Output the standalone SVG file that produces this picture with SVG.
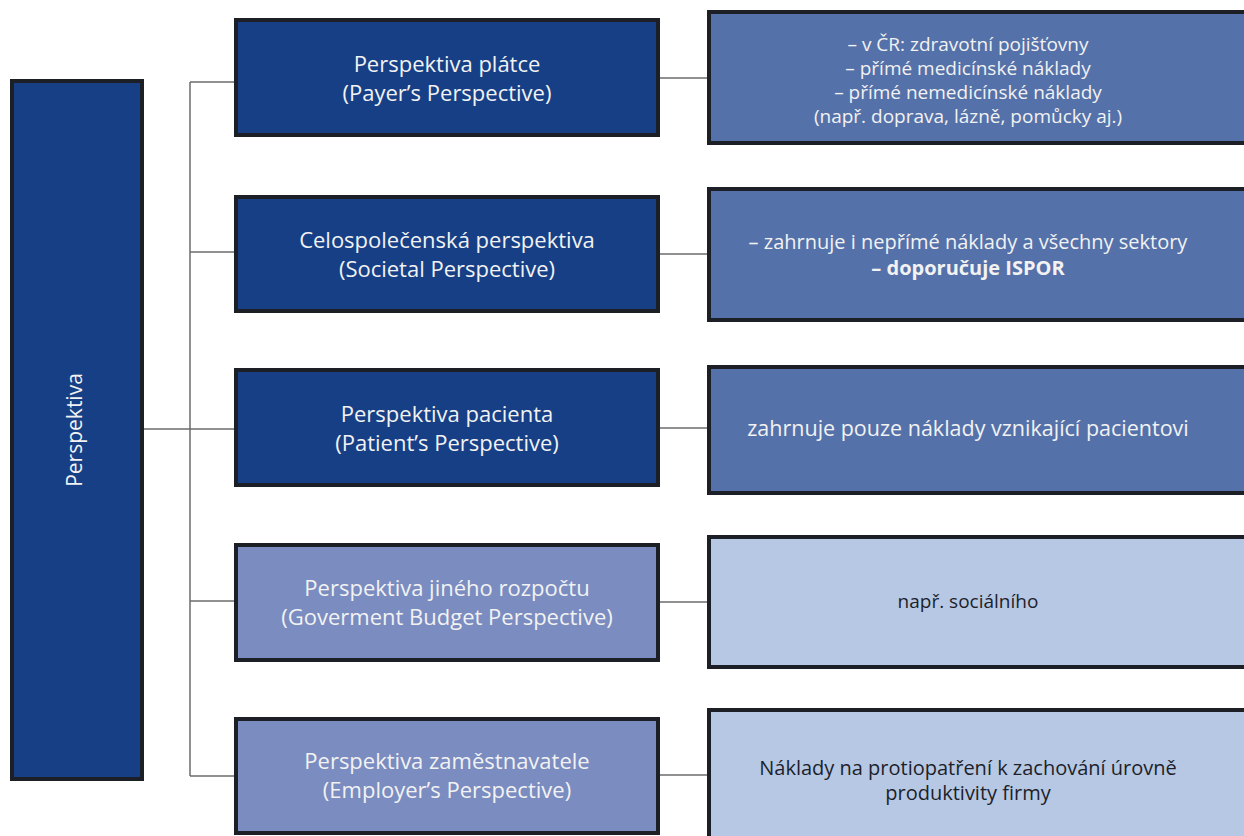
<svg xmlns="http://www.w3.org/2000/svg" width="1244" height="836" viewBox="0 0 1244 836">
<style>
.box{stroke:#1d1f26;stroke-width:4}
.dark{fill:#163f86}
.mid{fill:#5571a9}
.soft{fill:#7a8cc0}
.light{fill:#b6c8e4}
.conn{stroke:#6b6b6b;stroke-width:1.5;fill:none}
text{font-family:"Open Sans","Liberation Sans",Arial,sans-serif;text-anchor:middle}
.t1{font-size:22px;fill:#f2f2f2}
.t2{font-size:19px;fill:#f2f2f2}
.t2b{font-size:20px;fill:#f2f2f2}
.t3{font-size:20px;fill:#1d1f2a}
.b{font-weight:bold}
</style>
<rect width="1244" height="836" fill="#ffffff"/>
<g id="connectors">
<path class="conn" d="M190 82 V776"/>
<path class="conn" d="M144 429 H190"/>
<path class="conn" d="M190 82 H234"/>
<path class="conn" d="M190 252 H234"/>
<path class="conn" d="M190 429 H234"/>
<path class="conn" d="M190 601 H234"/>
<path class="conn" d="M190 776 H234"/>
<path class="conn" d="M660 78 H707"/>
<path class="conn" d="M660 254 H707"/>
<path class="conn" d="M660 428 H707"/>
<path class="conn" d="M660 602 H707"/>
<path class="conn" d="M660 775 H707"/>
</g>
<g id="root">
<rect class="box dark" x="12" y="81" width="130" height="698"/>
<text class="t1" style="font-size:21px" transform="translate(82 430) rotate(-90)">Perspektiva</text>
</g>
<g id="payer">
<rect class="box dark" x="236" y="20" width="422" height="115"/>
<text class="t1" x="447" y="72">Perspektiva plátce</text>
<text class="t1" x="447" y="101">(Payer’s Perspective)</text>
</g>
<g id="payer-detail">
<rect class="box mid" x="709" y="12" width="560" height="131"/>
<text class="t2" x="968" y="51">– v ČR: zdravotní pojišťovny</text>
<text class="t2" x="968" y="75">– přímé medicínské náklady</text>
<text class="t2" x="968" y="99">– přímé nemedicínské náklady</text>
<text class="t2" x="968" y="123">(např. doprava, lázně, pomůcky aj.)</text>
</g>
<g id="societal">
<rect class="box dark" x="236" y="197" width="422" height="114"/>
<text class="t1" x="447" y="248">Celospolečenská perspektiva</text>
<text class="t1" x="447" y="277">(Societal Perspective)</text>
</g>
<g id="societal-detail">
<rect class="box mid" x="709" y="189" width="560" height="131"/>
<text class="t2b" x="968" y="249">– zahrnuje i nepřímé náklady a všechny sektory</text>
<text class="t2b b" x="968" y="275">– doporučuje ISPOR</text>
</g>
<g id="patient">
<rect class="box dark" x="236" y="370" width="422" height="115"/>
<text class="t1" x="447" y="422">Perspektiva pacienta</text>
<text class="t1" x="447" y="451">(Patient’s Perspective)</text>
</g>
<g id="patient-detail">
<rect class="box mid" x="709" y="367" width="560" height="126"/>
<text class="t2b" style="font-size:21.5px" x="968" y="436">zahrnuje pouze náklady vznikající pacientovi</text>
</g>
<g id="government">
<rect class="box soft" x="236" y="545" width="422" height="115"/>
<text class="t1" x="447" y="596">Perspektiva jiného rozpočtu</text>
<text class="t1" x="447" y="625">(Goverment Budget Perspective)</text>
</g>
<g id="government-detail">
<rect class="box light" x="709" y="537" width="560" height="130"/>
<text class="t3" style="font-size:19px" x="968" y="608">např. sociálního</text>
</g>
<g id="employer">
<rect class="box soft" x="236" y="719" width="422" height="114"/>
<text class="t1" x="447" y="769">Perspektiva zaměstnavatele</text>
<text class="t1" x="447" y="798">(Employer’s Perspective)</text>
</g>
<g id="employer-detail">
<rect class="box light" x="709" y="710" width="560" height="140"/>
<text class="t3" x="968" y="775">Náklady na protiopatření k zachování úrovně</text>
<text class="t3" x="968" y="800">produktivity firmy</text>
</g>
</svg>
